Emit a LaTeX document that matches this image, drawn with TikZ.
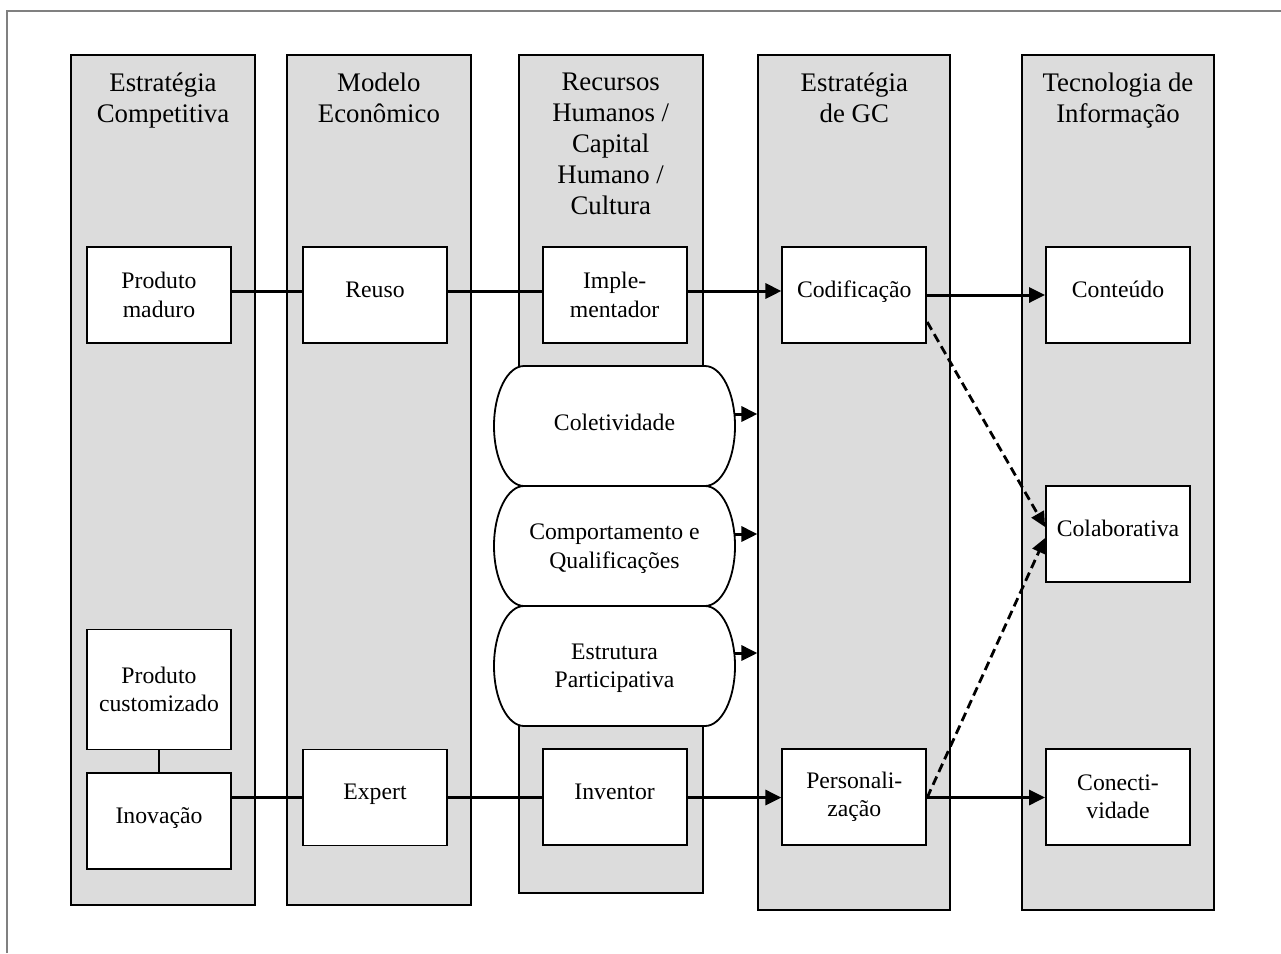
\documentclass[tikz,border=0pt]{standalone}
\usepackage{fontspec}
\setmainfont{Liberation Serif}
\usetikzlibrary{arrows.meta,calc}
\definecolor{colgray}{RGB}{220,220,220}
\definecolor{framegray}{RGB}{128,128,128}
\newcommand\mystadium[2]{%
  \draw[line width=1.8pt, fill=white]
    (#1-90.5,#2-60) -- (#1+90.5,#2-60)
    arc[start angle=90, end angle=-90, x radius=30pt, y radius=60pt]
    -- (#1-90.5,#2+60)
    arc[start angle=-90, end angle=-270, x radius=30pt, y radius=60pt]
    -- cycle;}
\begin{document}
\begin{tikzpicture}[x=1pt,y=-1pt,
  colbox/.style={draw=black, line width=1.8pt, fill=colgray, inner sep=0pt},
  hdr/.style={anchor=north, align=center, inner sep=0pt, font=\fontsize{26.8pt}{31pt}\selectfont},
  wbox/.style={draw=black, line width=1.8pt, fill=white, minimum width=144pt, minimum height=96pt,
    align=center, inner sep=0pt, font=\fontsize{23.7pt}{28.3pt}\selectfont},
  one/.style={text height=16pt, text depth=12pt},
  stadtext/.style={minimum width=241pt, minimum height=120pt, align=center, inner sep=0pt,
    font=\fontsize{23.7pt}{28.3pt}\selectfont},
  conn/.style={line width=3pt},
  arr/.style={conn, -{Triangle[length=16pt,width=15pt]}},
  darr/.style={line width=2.8pt, dash pattern=on 9pt off 5pt, -{Triangle[length=15pt,width=14pt]}},
  framel/.style={draw=framegray, line width=1.5pt},
]
\useasboundingbox (0,0) rectangle (1281,953);
\fill[white] (0,0) rectangle (1281,953);
% outer frame (top and left edges visible)
\draw[framel] (7,953) -- (7,11) -- (1281,11);

% columns
\node[colbox, minimum width=184pt, minimum height=850pt] (c1) at (163,480) {};
\node[colbox, minimum width=184pt, minimum height=850pt] (c2) at (378.9,480) {};
\node[colbox, minimum width=184pt, minimum height=838pt] (c3) at (610.7,474) {};
\node[colbox, minimum width=192pt, minimum height=855pt] (c4) at (854.3,482.5) {};
\node[colbox, minimum width=192pt, minimum height=855pt] (c5) at (1118,482.5) {};

% headers
\node[hdr] (h1) at ($(c1.north)+(0,18.5)$) {Estratégia\\Competitiva};
\node[hdr] (h2) at ($(c2.north)+(0,18.5)$) {Modelo\\Econômico};
\node[hdr] (h3) at ($(c3.north)+(0,18.5)$) {Recursos\\Humanos /\\Capital\\Humano /\\Cultura};
\node[hdr] (h4) at ($(c4.north)+(0,18.5)$) {Estratégia\\de GC};
\node[hdr] (h5) at ($(c5.north)+(0,18.5)$) {Tecnologia de\\Informação};

% stadium shapes (culture items)
\mystadium{614.5}{426}
\mystadium{614.5}{546}
\mystadium{614.5}{666}
\node[stadtext, text height=16pt, text depth=8pt] (s1) at (614.5,426) {Coletividade};
\node[stadtext, text depth=0pt] (s2) at (614.5,546) {Comportamento e\\Qualificações};
\node[stadtext, text depth=0pt] (s3) at (614.5,666) {Estrutura\\Participativa};

% boxes
\node[wbox] (pm) at (159,295) {Produto\\maduro};
\node[wbox, one] (re) at (375,295) {Reuso};
\node[wbox] (im) at (614.6,295) {Imple-\\mentador};
\node[wbox, one] (co) at (854.3,295) {Codificação};
\node[wbox, one] (ct) at (1118,295) {Conteúdo};
\node[wbox, one] (cl) at (1118,534) {Colaborativa};
\node[wbox, minimum height=120pt] (pc) at (159,689.5) {Produto\\customizado};
\node[wbox, one] (ino) at (159,821.3) {Inovação};
\node[wbox, one] (ex) at (375,797.5) {Expert};
\node[wbox, one] (inv) at (614.6,797) {Inventor};
\node[wbox] (pe) at (854.3,797) {Personali-\\zação};
\node[wbox] (cn) at (1118,797) {Conecti-\\vidade};

% row reference coordinates
\coordinate (r1) at (0,291);
\coordinate (r1b) at (0,295);
\coordinate (r2) at (0,797.5);

% connectors, top row
\draw[conn] (pm.east |- r1) -- (re.west |- r1);
\draw[conn] (re.east |- r1) -- (im.west |- r1);
\draw[arr] (im.east |- r1) -- (co.west |- r1);
\draw[arr] (co.east |- r1b) -- (ct.west |- r1b);

% connectors, bottom row
\draw[line width=1.8pt] (pc.south) -- (ino.north);
\draw[conn] (ino.east |- r2) -- (ex.west |- r2);
\draw[conn] (ex.east |- r2) -- (inv.west |- r2);
\draw[arr] (inv.east |- r2) -- (pe.west |- r2);
\draw[arr] (pe.east |- r2) -- (cn.west |- r2);

% culture arrows into column 4
\coordinate (a1) at ($(s1.east)+(-1,-12)$);
\coordinate (a2) at ($(s2.east)+(-1,-12)$);
\coordinate (a3) at ($(s3.east)+(-1,-13)$);
\draw[arr] (a1) -- (a1 -| c4.west);
\draw[arr] (a2) -- (a2 -| c4.west);
\draw[arr] (a3) -- (a3 -| c4.west);

% dashed arrows
\draw[darr] ($(co.east)+(0,27)$) -- ($(cl.west)+(0,-7)$);
\draw[darr] (pe.east |- r2) -- ($(cl.west)+(0,4)$);
\end{tikzpicture}
\end{document}
